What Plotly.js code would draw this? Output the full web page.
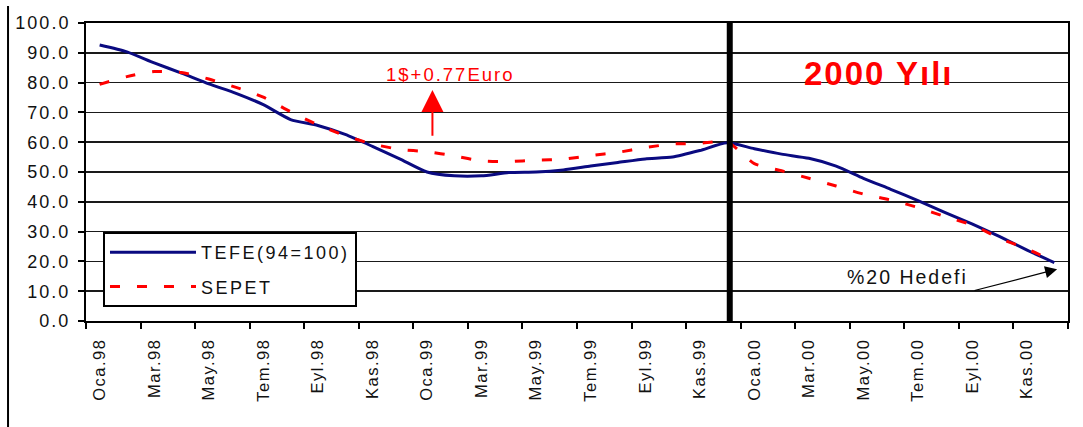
<!DOCTYPE html>
<html>
<head>
<meta charset="utf-8">
<script src="https://cdn.plot.ly/plotly-3.0.1.min.js"></script>
<style>
html,body{margin:0;padding:0;background:#fff;}
#chart{width:1083px;height:427px;}
.xtick text{letter-spacing:1.5px;}
.ytick text{letter-spacing:2px;}
.legendtext{letter-spacing:2.5px;}
.annotation-text{letter-spacing:2px;}
</style>
</head>
<body>
<div id="chart"></div>
<script>
// Months Oca.98 .. Ara.00 (36 categories)
const months = [
  'Oca.98','Şub.98','Mar.98','Nis.98','May.98','Haz.98','Tem.98','Ağu.98','Eyl.98','Eki.98','Kas.98','Ara.98',
  'Oca.99','Şub.99','Mar.99','Nis.99','May.99','Haz.99','Tem.99','Ağu.99','Eyl.99','Eki.99','Kas.99','Ara.99',
  'Oca.00','Şub.00','Mar.00','Nis.00','May.00','Haz.00','Tem.00','Ağu.00','Eyl.00','Eki.00','Kas.00','Ara.00'
];
const tickLabels = ['Oca.98','Mar.98','May.98','Tem.98','Eyl.98','Kas.98','Oca.99','Mar.99','May.99','Tem.99','Eyl.99','Kas.99','Oca.00','Mar.00','May.00','Tem.00','Eyl.00','Kas.00'];
const tefe = [92.6, 90.3, 86.6, 83.2, 79.6, 76.4, 72.6, 67.6, 65.6, 62.6, 58.6, 54.4,
              50.0, 48.7, 48.7, 49.8, 50.0, 50.7, 52.0, 53.2, 54.4, 55.0, 57.2, 59.8,
              57.8, 56.0, 54.6, 52.0, 47.9, 44.2, 40.4, 36.4, 32.5, 28.3, 23.8, 19.6];
const sepet = [79.4, 82.0, 83.7, 83.4, 81.2, 78.4, 75.1, 70.2, 65.8, 62.2, 59.4, 57.6,
               56.8, 55.4, 53.7, 53.5, 54.0, 54.3, 55.5, 56.6, 58.2, 59.4, 59.6, 60.2,
               52.8, 50.4, 47.9, 45.3, 42.6, 40.6, 38.1, 35.0, 32.2, 27.7, 24.2, 19.9];
const seriesNames = ['TEFE(94=100)', 'SEPET'];

const xIdx = months.map((m, i) => i);
const tickPos = xIdx.filter(i => tickLabels.includes(months[i]));
const FONT = 'Arial, "Liberation Sans", sans-serif';

const traces = [
  {x: xIdx, y: tefe, name: seriesNames[0], type: 'scatter', mode: 'lines',
   line: {color: '#0a0a80', width: 3, shape: 'spline', smoothing: 0.6}, legendgroup: 'a', text: months, hoverinfo: 'text+y'},
  {x: xIdx, y: sepet, name: seriesNames[1], type: 'scatter', mode: 'lines',
   line: {color: '#ff0000', width: 3, dash: '10px,17px', shape: 'spline', smoothing: 0.6}, legendgroup: 'b', text: months, hoverinfo: 'text+y'}
];

const layout = {
  width: 1083, height: 427,
  margin: {l: 86, r: 15, t: 23, b: 106},
  paper_bgcolor: '#ffffff', plot_bgcolor: '#ffffff',
  font: {family: FONT, color: '#111'},
  showlegend: true,
  legend: {x: 0.0173, y: 0.2987, xanchor: 'left', yanchor: 'top',
           bgcolor: '#ffffff', bordercolor: '#000', borderwidth: 2,
           font: {family: FONT, size: 18, color: '#111'}, itemwidth: 86, tracegroupgap: 8},
  xaxis: {
    range: [-0.5, 35.5], tickmode: 'array', tickvals: tickPos, ticktext: tickLabels,
    tickangle: -90, ticks: '', showgrid: false, zeroline: false,
    showline: true, linecolor: '#000', linewidth: 2, mirror: true,
    tickfont: {family: FONT, size: 16.5, color: '#111'}, ticklabelstandoff: 9,
    minor: {tick0: -0.5, dtick: 2, ticks: 'outside', ticklen: 6, tickwidth: 2, tickcolor: '#000', showgrid: false}
  },
  yaxis: {
    range: [0, 100], dtick: 10, tickformat: '.1f', ticks: 'outside', ticklen: 6, tickwidth: 2, tickcolor: '#000',
    showgrid: true, gridcolor: '#1a1a1a', gridwidth: 1.5, zeroline: false,
    showline: true, linecolor: '#000', linewidth: 2, mirror: true,
    tickfont: {family: FONT, size: 18, color: '#111'}, ticklabelstandoff: 4
  },
  shapes: [
    {type: 'line', xref: 'x', yref: 'y', x0: 23.1, x1: 23.1, y0: -1.3, y1: 101.7,
     line: {color: '#000', width: 6}},
    {type: 'line', xref: 'paper', yref: 'paper', x0: -0.0794, x1: -0.0794, y0: 1.057, y1: -0.36,
     line: {color: '#000', width: 2}}
  ],
  annotations: [
    {x: 12.85, y: 82.6, xref: 'x', yref: 'y', text: '1$+0.77Euro', showarrow: false,
     font: {family: FONT, size: 18.5, color: '#ff0000'}},
    {x: 12.2, y: 77.5, ax: 12.2, ay: 61.7, axref: 'x', ayref: 'y', xref: 'x', yref: 'y', text: '',
     showarrow: true, arrowhead: 2, arrowsize: 2.2, arrowwidth: 2, arrowcolor: '#ff0000'},
    {x: 28.57, y: 83.2, xref: 'x', yref: 'y', text: '<b>2000 Yılı</b>', showarrow: false,
     font: {family: FONT, size: 33, color: '#ff0000'}},
    {x: 29.6, y: 14.8, xref: 'x', yref: 'y', text: '%20 Hedefi', showarrow: false,
     font: {family: FONT, size: 19.5, color: '#111'}},
    {x: 35.1, y: 17.4, ax: 32.02, ay: 10.1, axref: 'x', ayref: 'y', xref: 'x', yref: 'y', text: '',
     showarrow: true, arrowhead: 2, arrowsize: 2, arrowwidth: 1.2, arrowcolor: '#000'}
  ]
};

Plotly.newPlot('chart', traces, layout, {displayModeBar: false, staticPlot: true});
</script>
</body>
</html>
